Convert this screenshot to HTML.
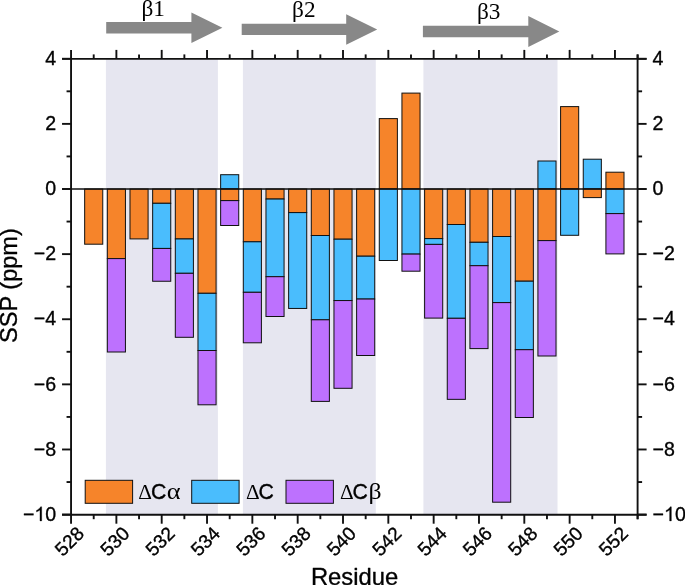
<!DOCTYPE html>
<html><head><meta charset="utf-8"><title>SSP chart</title>
<style>
html,body{margin:0;padding:0;background:#fff;}
body{width:685px;height:585px;overflow:hidden;font-family:"Liberation Sans",sans-serif;}
svg{display:block;}
.t{font-family:"Liberation Sans",sans-serif;fill:#000;stroke:#000;stroke-width:0.35px;stroke-linejoin:round;}
.s{font-family:"Liberation Serif",serif;fill:#000;}
</style></head><body>
<svg width="685" height="585" viewBox="0 0 685 585">
<rect x="0" y="0" width="685" height="585" fill="#ffffff"/>

<rect x="105.9" y="59" width="112.00" height="455.70" fill="#E6E6F0"/>
<rect x="242.9" y="59" width="132.90" height="455.70" fill="#E6E6F0"/>
<rect x="423.4" y="59" width="134.10" height="455.70" fill="#E6E6F0"/>
<polygon points="106.2,21.95 191.4,21.95 191.4,12.55 222.4,27.75 191.4,42.95 191.4,33.55 106.2,33.55" fill="#888888"/>
<polygon points="241.7,23.75 346.2,23.75 346.2,14.149999999999999 377.2,29.4 346.2,44.65 346.2,35.05 241.7,35.05" fill="#888888"/>
<polygon points="422.9,25.65 528.3,25.65 528.3,16.1 559.3,31.5 528.3,46.9 528.3,37.35 422.9,37.35" fill="#888888"/>
<rect x="84.66" y="189.00" width="18.1" height="55.20" fill="#F6842A" stroke="#111" stroke-width="1"/>
<rect x="107.33" y="189.00" width="18.1" height="69.60" fill="#F6842A" stroke="#111" stroke-width="1"/>
<rect x="107.33" y="258.60" width="18.1" height="93.40" fill="#BD71FE" stroke="#111" stroke-width="1"/>
<rect x="129.99" y="189.00" width="18.1" height="49.90" fill="#F6842A" stroke="#111" stroke-width="1"/>
<rect x="152.65" y="189.00" width="18.1" height="14.30" fill="#F6842A" stroke="#111" stroke-width="1"/>
<rect x="152.65" y="203.30" width="18.1" height="45.15" fill="#4ABDFD" stroke="#111" stroke-width="1"/>
<rect x="152.65" y="248.45" width="18.1" height="32.80" fill="#BD71FE" stroke="#111" stroke-width="1"/>
<rect x="175.31" y="189.00" width="18.1" height="49.95" fill="#F6842A" stroke="#111" stroke-width="1"/>
<rect x="175.31" y="238.95" width="18.1" height="34.35" fill="#4ABDFD" stroke="#111" stroke-width="1"/>
<rect x="175.31" y="273.30" width="18.1" height="64.00" fill="#BD71FE" stroke="#111" stroke-width="1"/>
<rect x="197.98" y="189.00" width="18.1" height="104.30" fill="#F6842A" stroke="#111" stroke-width="1"/>
<rect x="197.98" y="293.30" width="18.1" height="57.20" fill="#4ABDFD" stroke="#111" stroke-width="1"/>
<rect x="197.98" y="350.50" width="18.1" height="54.30" fill="#BD71FE" stroke="#111" stroke-width="1"/>
<rect x="220.64" y="174.70" width="18.1" height="14.30" fill="#4ABDFD" stroke="#111" stroke-width="1"/>
<rect x="220.64" y="189.00" width="18.1" height="11.60" fill="#F6842A" stroke="#111" stroke-width="1"/>
<rect x="220.64" y="200.60" width="18.1" height="24.90" fill="#BD71FE" stroke="#111" stroke-width="1"/>
<rect x="243.30" y="189.00" width="18.1" height="52.80" fill="#F6842A" stroke="#111" stroke-width="1"/>
<rect x="243.30" y="241.80" width="18.1" height="50.50" fill="#4ABDFD" stroke="#111" stroke-width="1"/>
<rect x="243.30" y="292.30" width="18.1" height="50.50" fill="#BD71FE" stroke="#111" stroke-width="1"/>
<rect x="265.97" y="189.00" width="18.1" height="10.05" fill="#F6842A" stroke="#111" stroke-width="1"/>
<rect x="265.97" y="199.05" width="18.1" height="77.65" fill="#4ABDFD" stroke="#111" stroke-width="1"/>
<rect x="265.97" y="276.70" width="18.1" height="39.80" fill="#BD71FE" stroke="#111" stroke-width="1"/>
<rect x="288.63" y="189.00" width="18.1" height="23.60" fill="#F6842A" stroke="#111" stroke-width="1"/>
<rect x="288.63" y="212.60" width="18.1" height="95.85" fill="#4ABDFD" stroke="#111" stroke-width="1"/>
<rect x="311.29" y="189.00" width="18.1" height="46.50" fill="#F6842A" stroke="#111" stroke-width="1"/>
<rect x="311.29" y="235.50" width="18.1" height="84.30" fill="#4ABDFD" stroke="#111" stroke-width="1"/>
<rect x="311.29" y="319.80" width="18.1" height="81.60" fill="#BD71FE" stroke="#111" stroke-width="1"/>
<rect x="333.96" y="189.00" width="18.1" height="50.20" fill="#F6842A" stroke="#111" stroke-width="1"/>
<rect x="333.96" y="239.20" width="18.1" height="61.35" fill="#4ABDFD" stroke="#111" stroke-width="1"/>
<rect x="333.96" y="300.55" width="18.1" height="87.75" fill="#BD71FE" stroke="#111" stroke-width="1"/>
<rect x="356.62" y="189.00" width="18.1" height="67.20" fill="#F6842A" stroke="#111" stroke-width="1"/>
<rect x="356.62" y="256.20" width="18.1" height="42.85" fill="#4ABDFD" stroke="#111" stroke-width="1"/>
<rect x="356.62" y="299.05" width="18.1" height="56.45" fill="#BD71FE" stroke="#111" stroke-width="1"/>
<rect x="379.28" y="118.60" width="18.1" height="70.40" fill="#F6842A" stroke="#111" stroke-width="1"/>
<rect x="379.28" y="189.00" width="18.1" height="71.50" fill="#4ABDFD" stroke="#111" stroke-width="1"/>
<rect x="401.94" y="93.10" width="18.1" height="95.90" fill="#F6842A" stroke="#111" stroke-width="1"/>
<rect x="401.94" y="189.00" width="18.1" height="65.10" fill="#4ABDFD" stroke="#111" stroke-width="1"/>
<rect x="401.94" y="254.10" width="18.1" height="17.10" fill="#BD71FE" stroke="#111" stroke-width="1"/>
<rect x="424.61" y="189.00" width="18.1" height="49.60" fill="#F6842A" stroke="#111" stroke-width="1"/>
<rect x="424.61" y="238.60" width="18.1" height="5.80" fill="#4ABDFD" stroke="#111" stroke-width="1"/>
<rect x="424.61" y="244.40" width="18.1" height="73.70" fill="#BD71FE" stroke="#111" stroke-width="1"/>
<rect x="447.27" y="189.00" width="18.1" height="35.50" fill="#F6842A" stroke="#111" stroke-width="1"/>
<rect x="447.27" y="224.50" width="18.1" height="93.80" fill="#4ABDFD" stroke="#111" stroke-width="1"/>
<rect x="447.27" y="318.30" width="18.1" height="81.05" fill="#BD71FE" stroke="#111" stroke-width="1"/>
<rect x="469.93" y="189.00" width="18.1" height="53.30" fill="#F6842A" stroke="#111" stroke-width="1"/>
<rect x="469.93" y="242.30" width="18.1" height="23.40" fill="#4ABDFD" stroke="#111" stroke-width="1"/>
<rect x="469.93" y="265.70" width="18.1" height="82.90" fill="#BD71FE" stroke="#111" stroke-width="1"/>
<rect x="492.60" y="189.00" width="18.1" height="47.50" fill="#F6842A" stroke="#111" stroke-width="1"/>
<rect x="492.60" y="236.50" width="18.1" height="66.10" fill="#4ABDFD" stroke="#111" stroke-width="1"/>
<rect x="492.60" y="302.60" width="18.1" height="199.60" fill="#BD71FE" stroke="#111" stroke-width="1"/>
<rect x="515.26" y="189.00" width="18.1" height="92.20" fill="#F6842A" stroke="#111" stroke-width="1"/>
<rect x="515.26" y="281.20" width="18.1" height="68.50" fill="#4ABDFD" stroke="#111" stroke-width="1"/>
<rect x="515.26" y="349.70" width="18.1" height="67.80" fill="#BD71FE" stroke="#111" stroke-width="1"/>
<rect x="537.92" y="161.00" width="18.1" height="28.00" fill="#4ABDFD" stroke="#111" stroke-width="1"/>
<rect x="537.92" y="189.00" width="18.1" height="51.60" fill="#F6842A" stroke="#111" stroke-width="1"/>
<rect x="537.92" y="240.60" width="18.1" height="115.40" fill="#BD71FE" stroke="#111" stroke-width="1"/>
<rect x="560.59" y="106.60" width="18.1" height="82.40" fill="#F6842A" stroke="#111" stroke-width="1"/>
<rect x="560.59" y="189.00" width="18.1" height="46.30" fill="#4ABDFD" stroke="#111" stroke-width="1"/>
<rect x="583.25" y="159.20" width="18.1" height="29.80" fill="#4ABDFD" stroke="#111" stroke-width="1"/>
<rect x="583.25" y="189.00" width="18.1" height="8.60" fill="#F6842A" stroke="#111" stroke-width="1"/>
<rect x="605.91" y="172.20" width="18.1" height="16.80" fill="#F6842A" stroke="#111" stroke-width="1"/>
<rect x="605.91" y="189.00" width="18.1" height="24.60" fill="#4ABDFD" stroke="#111" stroke-width="1"/>
<rect x="605.91" y="213.60" width="18.1" height="40.30" fill="#BD71FE" stroke="#111" stroke-width="1"/>
<g stroke="#111111" stroke-width="1.9" fill="none">
<line x1="71.05" y1="49.9" x2="71.05" y2="523.7"/>
<line x1="637.6" y1="54.4" x2="637.6" y2="519.2"/>
<line x1="62.05" y1="58.9" x2="646.6" y2="58.9"/>
<line x1="62.05" y1="514.7" x2="646.6" y2="514.7"/>
<line x1="62.05" y1="189.0" x2="646.6" y2="189.0" stroke-width="1.5"/>
<line x1="93.71" y1="58.9" x2="93.71" y2="54.4"/>
<line x1="93.71" y1="514.7" x2="93.71" y2="519.2"/>
<line x1="116.38" y1="58.9" x2="116.38" y2="49.9"/>
<line x1="116.38" y1="514.7" x2="116.38" y2="523.7"/>
<line x1="139.04" y1="58.9" x2="139.04" y2="54.4"/>
<line x1="139.04" y1="514.7" x2="139.04" y2="519.2"/>
<line x1="161.70" y1="58.9" x2="161.70" y2="49.9"/>
<line x1="161.70" y1="514.7" x2="161.70" y2="523.7"/>
<line x1="184.37" y1="58.9" x2="184.37" y2="54.4"/>
<line x1="184.37" y1="514.7" x2="184.37" y2="519.2"/>
<line x1="207.03" y1="58.9" x2="207.03" y2="49.9"/>
<line x1="207.03" y1="514.7" x2="207.03" y2="523.7"/>
<line x1="229.69" y1="58.9" x2="229.69" y2="54.4"/>
<line x1="229.69" y1="514.7" x2="229.69" y2="519.2"/>
<line x1="252.35" y1="58.9" x2="252.35" y2="49.9"/>
<line x1="252.35" y1="514.7" x2="252.35" y2="523.7"/>
<line x1="275.02" y1="58.9" x2="275.02" y2="54.4"/>
<line x1="275.02" y1="514.7" x2="275.02" y2="519.2"/>
<line x1="297.68" y1="58.9" x2="297.68" y2="49.9"/>
<line x1="297.68" y1="514.7" x2="297.68" y2="523.7"/>
<line x1="320.34" y1="58.9" x2="320.34" y2="54.4"/>
<line x1="320.34" y1="514.7" x2="320.34" y2="519.2"/>
<line x1="343.01" y1="58.9" x2="343.01" y2="49.9"/>
<line x1="343.01" y1="514.7" x2="343.01" y2="523.7"/>
<line x1="365.67" y1="58.9" x2="365.67" y2="54.4"/>
<line x1="365.67" y1="514.7" x2="365.67" y2="519.2"/>
<line x1="388.33" y1="58.9" x2="388.33" y2="49.9"/>
<line x1="388.33" y1="514.7" x2="388.33" y2="523.7"/>
<line x1="411.00" y1="58.9" x2="411.00" y2="54.4"/>
<line x1="411.00" y1="514.7" x2="411.00" y2="519.2"/>
<line x1="433.66" y1="58.9" x2="433.66" y2="49.9"/>
<line x1="433.66" y1="514.7" x2="433.66" y2="523.7"/>
<line x1="456.32" y1="58.9" x2="456.32" y2="54.4"/>
<line x1="456.32" y1="514.7" x2="456.32" y2="519.2"/>
<line x1="478.98" y1="58.9" x2="478.98" y2="49.9"/>
<line x1="478.98" y1="514.7" x2="478.98" y2="523.7"/>
<line x1="501.65" y1="58.9" x2="501.65" y2="54.4"/>
<line x1="501.65" y1="514.7" x2="501.65" y2="519.2"/>
<line x1="524.31" y1="58.9" x2="524.31" y2="49.9"/>
<line x1="524.31" y1="514.7" x2="524.31" y2="523.7"/>
<line x1="546.97" y1="58.9" x2="546.97" y2="54.4"/>
<line x1="546.97" y1="514.7" x2="546.97" y2="519.2"/>
<line x1="569.64" y1="58.9" x2="569.64" y2="49.9"/>
<line x1="569.64" y1="514.7" x2="569.64" y2="523.7"/>
<line x1="592.30" y1="58.9" x2="592.30" y2="54.4"/>
<line x1="592.30" y1="514.7" x2="592.30" y2="519.2"/>
<line x1="614.96" y1="58.9" x2="614.96" y2="49.9"/>
<line x1="614.96" y1="514.7" x2="614.96" y2="523.7"/>
<line x1="637.62" y1="58.9" x2="637.62" y2="54.4"/>
<line x1="637.62" y1="514.7" x2="637.62" y2="519.2"/>
<line x1="71.05" y1="514.60" x2="62.05" y2="514.60"/>
<line x1="637.6" y1="514.60" x2="646.6" y2="514.60"/>
<line x1="71.05" y1="482.04" x2="66.55" y2="482.04"/>
<line x1="637.6" y1="482.04" x2="642.1" y2="482.04"/>
<line x1="71.05" y1="449.48" x2="62.05" y2="449.48"/>
<line x1="637.6" y1="449.48" x2="646.6" y2="449.48"/>
<line x1="71.05" y1="416.92" x2="66.55" y2="416.92"/>
<line x1="637.6" y1="416.92" x2="642.1" y2="416.92"/>
<line x1="71.05" y1="384.36" x2="62.05" y2="384.36"/>
<line x1="637.6" y1="384.36" x2="646.6" y2="384.36"/>
<line x1="71.05" y1="351.80" x2="66.55" y2="351.80"/>
<line x1="637.6" y1="351.80" x2="642.1" y2="351.80"/>
<line x1="71.05" y1="319.24" x2="62.05" y2="319.24"/>
<line x1="637.6" y1="319.24" x2="646.6" y2="319.24"/>
<line x1="71.05" y1="286.68" x2="66.55" y2="286.68"/>
<line x1="637.6" y1="286.68" x2="642.1" y2="286.68"/>
<line x1="71.05" y1="254.12" x2="62.05" y2="254.12"/>
<line x1="637.6" y1="254.12" x2="646.6" y2="254.12"/>
<line x1="71.05" y1="221.56" x2="66.55" y2="221.56"/>
<line x1="637.6" y1="221.56" x2="642.1" y2="221.56"/>
<line x1="71.05" y1="189.00" x2="62.05" y2="189.00"/>
<line x1="637.6" y1="189.00" x2="646.6" y2="189.00"/>
<line x1="71.05" y1="156.44" x2="66.55" y2="156.44"/>
<line x1="637.6" y1="156.44" x2="642.1" y2="156.44"/>
<line x1="71.05" y1="123.88" x2="62.05" y2="123.88"/>
<line x1="637.6" y1="123.88" x2="646.6" y2="123.88"/>
<line x1="71.05" y1="91.32" x2="66.55" y2="91.32"/>
<line x1="637.6" y1="91.32" x2="642.1" y2="91.32"/>
<line x1="71.05" y1="58.76" x2="62.05" y2="58.76"/>
<line x1="637.6" y1="58.76" x2="646.6" y2="58.76"/>
</g>
<g opacity="0.999">
<text class="t" x="22.96" y="520.90" font-size="19.6">&#8722;</text>
<path class="t" transform="translate(34.40,520.90) scale(0.009570,-0.009570)" d="M763 0H583V1147Q518 1085 412.5 1023Q307 961 223 930V1104Q374 1175 487 1276Q600 1377 647 1472H763Z" style="stroke-width:36.6px"/>
<text class="t" x="45.30" y="520.90" font-size="19.6">0</text>
<text class="t" x="652.60" y="520.90" font-size="19.6">&#8722;</text>
<path class="t" transform="translate(664.05,520.90) scale(0.009570,-0.009570)" d="M763 0H583V1147Q518 1085 412.5 1023Q307 961 223 930V1104Q374 1175 487 1276Q600 1377 647 1472H763Z" style="stroke-width:36.6px"/>
<text class="t" x="674.94" y="520.90" font-size="19.6">0</text>
<text class="t" x="56.2" y="455.58" font-size="19.6" text-anchor="end">&#8722;8</text>
<text class="t" x="652.6" y="455.58" font-size="19.6" text-anchor="start">&#8722;8</text>
<text class="t" x="56.2" y="390.66" font-size="19.6" text-anchor="end">&#8722;6</text>
<text class="t" x="652.6" y="390.66" font-size="19.6" text-anchor="start">&#8722;6</text>
<text class="t" x="56.2" y="325.34" font-size="19.6" text-anchor="end">&#8722;4</text>
<text class="t" x="652.6" y="325.34" font-size="19.6" text-anchor="start">&#8722;4</text>
<text class="t" x="56.2" y="259.82" font-size="19.6" text-anchor="end">&#8722;2</text>
<text class="t" x="652.6" y="259.82" font-size="19.6" text-anchor="start">&#8722;2</text>
<text class="t" x="56.2" y="194.80" font-size="19.6" text-anchor="end">0</text>
<text class="t" x="652.6" y="194.80" font-size="19.6" text-anchor="start">0</text>
<text class="t" x="56.2" y="129.58" font-size="19.6" text-anchor="end">2</text>
<text class="t" x="652.6" y="129.58" font-size="19.6" text-anchor="start">2</text>
<text class="t" x="56.2" y="65.46" font-size="19.6" text-anchor="end">4</text>
<text class="t" x="652.6" y="65.46" font-size="19.6" text-anchor="start">4</text>
<text class="t" font-size="19.1" text-anchor="middle" transform="translate(69.65,541.6) rotate(-45)" y="6.3">528</text>
<text class="t" font-size="19.1" text-anchor="middle" transform="translate(114.98,541.6) rotate(-45)" y="6.3">530</text>
<text class="t" font-size="19.1" text-anchor="middle" transform="translate(160.30,541.6) rotate(-45)" y="6.3">532</text>
<text class="t" font-size="19.1" text-anchor="middle" transform="translate(205.63,541.6) rotate(-45)" y="6.3">534</text>
<text class="t" font-size="19.1" text-anchor="middle" transform="translate(250.95,541.6) rotate(-45)" y="6.3">536</text>
<text class="t" font-size="19.1" text-anchor="middle" transform="translate(296.28,541.6) rotate(-45)" y="6.3">538</text>
<text class="t" font-size="19.1" text-anchor="middle" transform="translate(341.61,541.6) rotate(-45)" y="6.3">540</text>
<text class="t" font-size="19.1" text-anchor="middle" transform="translate(386.93,541.6) rotate(-45)" y="6.3">542</text>
<text class="t" font-size="19.1" text-anchor="middle" transform="translate(432.26,541.6) rotate(-45)" y="6.3">544</text>
<text class="t" font-size="19.1" text-anchor="middle" transform="translate(477.58,541.6) rotate(-45)" y="6.3">546</text>
<text class="t" font-size="19.1" text-anchor="middle" transform="translate(522.91,541.6) rotate(-45)" y="6.3">548</text>
<text class="t" font-size="19.1" text-anchor="middle" transform="translate(568.24,541.6) rotate(-45)" y="6.3">550</text>
<text class="t" font-size="19.1" text-anchor="middle" transform="translate(613.56,541.6) rotate(-45)" y="6.3">552</text>
<text class="t" font-size="23.8" text-anchor="middle" x="354.6" y="584.5">Residue</text>
<text class="t" font-size="23.6" text-anchor="middle" transform="translate(17.4,285.6) rotate(-90)">SSP (ppm)</text>
<text class="s" font-size="23.3" text-anchor="middle" x="153.2" y="16.4">&#946;1</text>
<text class="s" font-size="23.3" text-anchor="middle" x="303.8" y="17.0">&#946;2</text>
<text class="s" font-size="23.3" text-anchor="middle" x="488.7" y="19.0">&#946;3</text>
<rect x="85.2" y="480.3" width="47.4" height="23.0" fill="#F6842A" stroke="#111" stroke-width="1"/>
<text class="s" font-size="21.3" transform="translate(138.3,499.2) scale(1,1)">&#916;</text>
<text class="t" font-size="21.3" transform="translate(150.9,499.2) scale(1,1)">C</text>
<text class="s" font-size="22.5" transform="translate(166.7,499.2) scale(1.17,1)">&#945;</text>
<rect x="191.7" y="480.3" width="47.4" height="23.0" fill="#4ABDFD" stroke="#111" stroke-width="1"/>
<text class="s" font-size="21.3" transform="translate(245.9,499.2) scale(1,1)">&#916;</text>
<text class="t" font-size="21.3" transform="translate(258.5,499.2) scale(1,1)">C</text>
<rect x="286.0" y="480.3" width="47.4" height="23.0" fill="#BD71FE" stroke="#111" stroke-width="1"/>
<text class="s" font-size="21.3" transform="translate(340.0,499.2) scale(1,1)">&#916;</text>
<text class="t" font-size="21.3" transform="translate(352.6,499.2) scale(1,1)">C</text>
<text class="s" font-size="23" transform="translate(368.6,499.2) scale(1.12,1)">&#946;</text>
</g>
</svg></body></html>
